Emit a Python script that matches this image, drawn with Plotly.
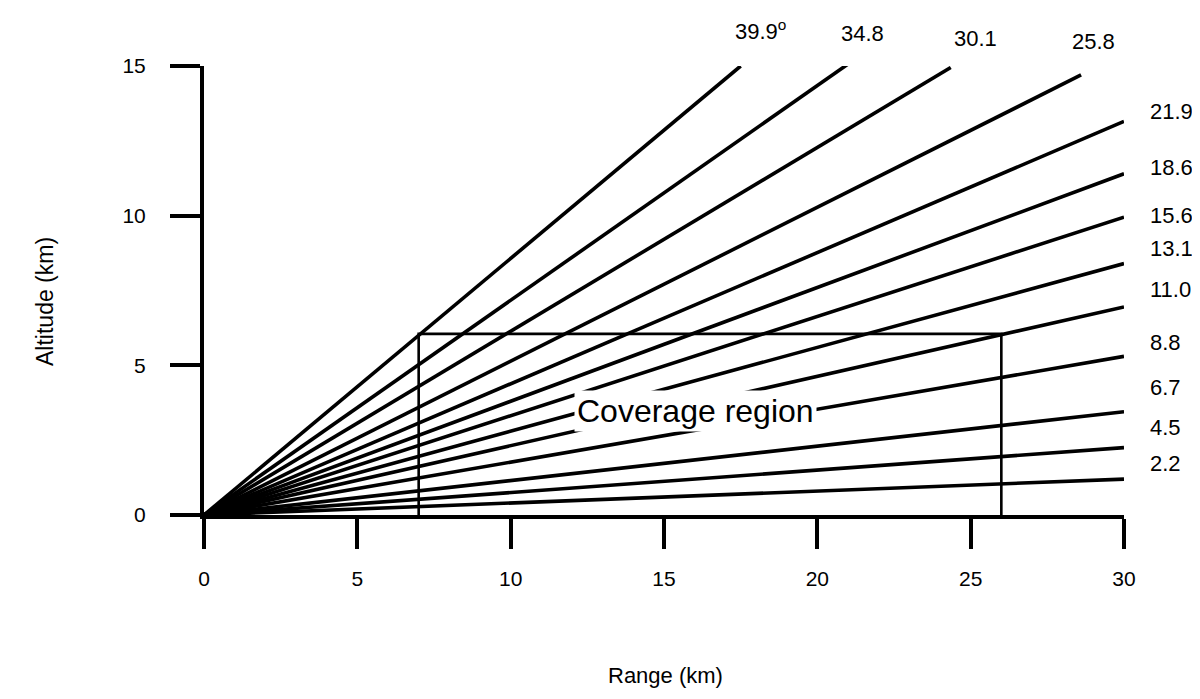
import plotly.graph_objects as go

# ---------------- data ----------------
angle_labels = ["39.9<sup>o</sup>", "34.8", "30.1", "25.8", "21.9", "18.6",
                "15.6", "13.1", "11.0", "8.8", "6.7", "4.5", "2.2"]
# end point of each elevation ray (range km, altitude km)
end_range = [17.5, 21.05, 24.35, 28.6, 30, 30, 30, 30, 30, 30, 30, 30, 30]
end_alt = [15.0, 15.1, 14.95, 14.7, 13.15, 11.4, 9.95, 8.4, 6.95, 5.3, 3.45, 2.25, 1.2]

coverage_range = [7, 26]      # left / right edge of coverage box (km)
coverage_top = 6.05           # altitude of coverage box top (km)
coverage_label = "Coverage region"

x_ticks = [0, 5, 10, 15, 20, 25, 30]
y_ticks = [0, 5, 10, 15]

# ---------------- label placement (page pixels) ----------------
label_px = [760, 862, 975, 1093] + [1148] * 9
label_py = [30, 34, 38, 41, 112, 167, 215, 248, 289, 343, 387, 427, 463]
coverage_px, coverage_py = (695, 411)

FONT = "Liberation Sans, Arial, Helvetica, sans-serif"
BODY = 8                      # default page body margin
W, H = 1200 - 2 * BODY, 699 - 2 * BODY
PL, PR, PT, PB = 204, 1124, 66, 515   # plot area in page pixels
ML, MR, MT, MB = PL - BODY, (W + BODY) - PR, PT - BODY, (H + BODY) - PB


def px2paper(px, py):
    return (px - PL) / (PR - PL), (PB - py) / (PB - PT)


fig = go.Figure()

for r, a in zip(end_range, end_alt):
    fig.add_trace(go.Scatter(x=[0, r], y=[0, a], mode="lines",
                             line=dict(color="black", width=3.6),
                             hoverinfo="skip", showlegend=False))

cx0, cx1 = coverage_range
fig.add_trace(go.Scatter(x=[cx0, cx0, cx1, cx1], y=[0, coverage_top, coverage_top, 0],
                         mode="lines", line=dict(color="black", width=2.6),
                         hoverinfo="skip", showlegend=False))

annotations = []
for i, lab in enumerate(angle_labels):
    xp, yp = px2paper(label_px[i], label_py[i])
    annotations.append(dict(x=xp, y=yp, xref="paper", yref="paper", text=lab,
                            showarrow=False, xanchor="center" if i < 4 else "left",
                            yanchor="middle",
                            font=dict(family=FONT, size=22, color="black")))

xp, yp = px2paper(coverage_px, coverage_py)
annotations.append(dict(x=xp, y=yp, xref="paper", yref="paper", xanchor="center",
                        yanchor="middle", text=coverage_label, showarrow=False,
                        bgcolor="white", borderpad=2,
                        font=dict(family=FONT, size=32, color="black")))

xp, yp = px2paper(665, 675)
annotations.append(dict(x=xp, y=yp, xref="paper", yref="paper", xanchor="center",
                        yanchor="middle", text="Range (km)", showarrow=False,
                        font=dict(family=FONT, size=22, color="black")))
xp, yp = px2paper(45, 302)
annotations.append(dict(x=xp, y=yp, xref="paper", yref="paper", xanchor="center",
                        yanchor="middle", text="Altitude (km)", showarrow=False,
                        textangle=-90, font=dict(family=FONT, size=23, color="black")))

axis_common = dict(showgrid=False, zeroline=False, showline=True, linecolor="black",
                   linewidth=4, ticks="outside", ticklen=30, tickwidth=4, tickcolor="black",
                   tickfont=dict(family=FONT, size=21, color="black"), fixedrange=True)

fig.update_layout(
    width=W, height=H,
    margin=dict(l=ML, r=MR, t=MT, b=MB, autoexpand=False),
    paper_bgcolor="white", plot_bgcolor="white",
    xaxis=dict(range=[0, 30], tickvals=x_ticks, ticktext=[str(v) for v in x_ticks],
               ticklabelstandoff=12, **axis_common),
    yaxis=dict(range=[0, 15], tickvals=y_ticks, ticktext=[str(v) for v in y_ticks],
               ticklabelstandoff=20, **axis_common),
    annotations=annotations,
    showlegend=False,
)

fig.write_html("out.html")
